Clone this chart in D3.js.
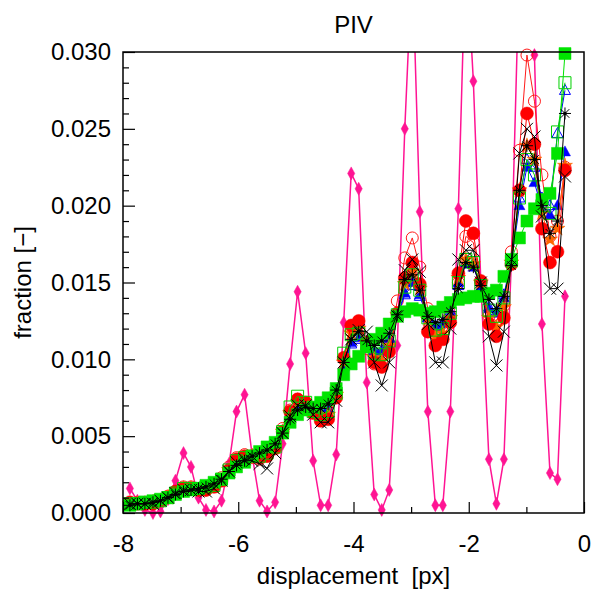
<!DOCTYPE html>
<html>
<head>
<meta charset="utf-8">
<script src="https://cdn.jsdelivr.net/npm/d3@7"></script>
<style>
  body { margin: 0; background: #fff; }
  text { font-family: "Liberation Sans", Arial, sans-serif; }
</style>
</head>
<body>
<script>

// displacement bins [px]
var xs = [-7.88, -7.75, -7.62, -7.48, -7.35, -7.22, -7.09, -6.95, -6.82, -6.69,
          -6.56, -6.42, -6.29, -6.16, -6.03, -5.89, -5.76, -5.63, -5.50, -5.36,
          -5.23, -5.10, -4.97, -4.83, -4.70, -4.57, -4.44, -4.30, -4.17, -4.04,
          -3.91, -3.77, -3.64, -3.51, -3.38, -3.24, -3.11, -2.98, -2.85, -2.71,
          -2.58, -2.45, -2.32, -2.18, -2.05, -1.92, -1.79, -1.65, -1.52, -1.39,
          -1.26, -1.12, -0.99, -0.86, -0.73, -0.59, -0.46, -0.33];

// fraction per bin, one array per evaluation
var pinkDiamond = [.0016, .0008, .0002, .0000, .0001, .0009, .0021, .0039, .0030, .0010,
                   .0002, .0001, .0008, .0032, .0066, .0077, .0038, .0008, .0001, .0007,
                   .0045, .0097, .0144, .0104, .0034, .0005, .0005, .0038, .0124, .0221,
                   .0211, .0085, .0012, .0002, .0015, .0109, .0250, .0360, .0196, .0066,
                   .0005, .0005, .0066, .0198, .0370, .0281, .0150, .0035, .0006, .0035,
                   .0165, .0360, .0400, .0298, .0123, .0026, .0022, .0141];

var redOpen = [.0006, .0007, .0007, .0006, .0008, .0011, .0014, .0017, .0017, .0015,
               .0015, .0018, .0023, .0030, .0036, .0038, .0036, .0035, .0038, .0044,
               .0055, .0067, .0074, .0071, .0066, .0062, .0064, .0078, .0100, .0118,
               .0120, .0107, .0097, .0099, .0110, .0138, .0166, .0179, .0160, .0133,
               .0119, .0118, .0128, .0150, .0180, .0176, .0150, .0128, .0125, .0135,
               .0170, .0236, .0298, .0268, .0220, .0180, .0190, .0225];

var blueFilled = [.0005, .0006, .0007, .0007, .0008, .0010, .0013, .0015, .0015, .0016,
                  .0017, .0018, .0022, .0027, .0033, .0035, .0037, .0038, .0040, .0044,
                  .0053, .0063, .0069, .0070, .0067, .0066, .0068, .0078, .0096, .0111,
                  .0114, .0110, .0105, .0105, .0113, .0129, .0143, .0150, .0142, .0127,
                  .0121, .0123, .0130, .0150, .0162, .0160, .0147, .0133, .0130, .0140,
                  .0163, .0200, .0225, .0215, .0198, .0194, .0200, .0235];

var blueOpen = [.0005, .0006, .0007, .0007, .0008, .0010, .0013, .0015, .0016, .0016,
                .0017, .0019, .0022, .0027, .0032, .0035, .0037, .0038, .0040, .0045,
                .0053, .0063, .0069, .0070, .0067, .0066, .0068, .0078, .0095, .0110,
                .0113, .0110, .0106, .0106, .0114, .0128, .0142, .0148, .0141, .0127,
                .0122, .0124, .0131, .0148, .0163, .0162, .0146, .0134, .0131, .0142,
                .0165, .0205, .0230, .0225, .0205, .0200, .0247, .0275];

var orangeStar = [.0006, .0006, .0006, .0007, .0008, .0010, .0013, .0016, .0016, .0015,
                  .0016, .0017, .0021, .0028, .0034, .0036, .0037, .0037, .0038, .0043,
                  .0053, .0065, .0072, .0071, .0066, .0063, .0064, .0077, .0098, .0117,
                  .0120, .0110, .0101, .0099, .0109, .0129, .0149, .0157, .0146, .0126,
                  .0115, .0117, .0127, .0153, .0165, .0162, .0150, .0127, .0121, .0134,
                  .0163, .0210, .0239, .0230, .0195, .0178, .0185, .0226];

var redFilled = [.0007, .0006, .0006, .0006, .0008, .0010, .0014, .0016, .0016, .0015,
                 .0015, .0017, .0021, .0028, .0035, .0037, .0037, .0036, .0037, .0042,
                 .0053, .0066, .0074, .0072, .0065, .0060, .0061, .0075, .0101, .0122,
                 .0125, .0111, .0098, .0095, .0105, .0130, .0153, .0163, .0149, .0118,
                 .0109, .0113, .0124, .0156, .0190, .0182, .0151, .0123, .0115, .0127,
                 .0162, .0210, .0260, .0240, .0185, .0163, .0170, .0223];

var greenOpen = [.0006, .0006, .0007, .0007, .0008, .0010, .0013, .0016, .0016, .0016,
                 .0017, .0018, .0022, .0028, .0034, .0036, .0037, .0037, .0039, .0043,
                 .0053, .0069, .0076, .0072, .0066, .0064, .0066, .0078, .0104, .0116,
                 .0117, .0110, .0104, .0103, .0112, .0129, .0147, .0155, .0145, .0127,
                 .0119, .0120, .0130, .0150, .0165, .0163, .0148, .0132, .0128, .0140,
                 .0164, .0205, .0230, .0220, .0200, .0195, .0248, .0280];

var greenFilled = [.0005, .0006, .0007, .0008, .0009, .0010, .0012, .0014, .0015, .0016,
                   .0018, .0020, .0022, .0026, .0030, .0033, .0037, .0040, .0043, .0046,
                   .0052, .0059, .0064, .0067, .0069, .0072, .0075, .0081, .0090, .0097,
                   .0102, .0108, .0113, .0117, .0123, .0128, .0131, .0133, .0132, .0130,
                   .0131, .0134, .0137, .0139, .0140, .0141, .0141, .0143, .0145, .0154,
                   .0165, .0179, .0190, .0198, .0204, .0208, .0234, .0299];

var blackX = [.0006, .0006, .0006, .0006, .0008, .0010, .0013, .0015, .0015, .0014,
              .0014, .0016, .0021, .0027, .0033, .0035, .0034, .0032, .0029, .0039,
              .0052, .0063, .0070, .0070, .0064, .0059, .0059, .0073, .0098, .0113,
              .0119, .0118, .0098, .0083, .0098, .0128, .0158, .0165, .0157, .0123,
              .0098, .0098, .0120, .0165, .0171, .0171, .0150, .0115, .0096, .0118,
              .0165, .0234, .0250, .0245, .0193, .0146, .0146, .0219];

var blackStar = [.0005, .0006, .0006, .0007, .0008, .0010, .0012, .0014, .0015, .0016,
                 .0017, .0019, .0022, .0027, .0031, .0034, .0037, .0039, .0041, .0045,
                 .0052, .0061, .0067, .0069, .0068, .0068, .0071, .0080, .0098, .0113,
                 .0118, .0112, .0109, .0112, .0117, .0129, .0152, .0155, .0145, .0128,
                 .0124, .0126, .0131, .0146, .0163, .0160, .0148, .0139, .0133, .0141,
                 .0161, .0210, .0239, .0230, .0200, .0182, .0190, .0260];

var xMajor = [-8, -6, -4, -2, 0];
var xMinor = [-7, -5, -3, -1];
var yMajor = [0, 0.005, 0.010, 0.015, 0.020, 0.025, 0.030];
var yMinor = [0.001, 0.002, 0.003, 0.004, 0.006, 0.007, 0.008, 0.009, 0.011, 0.012, 0.013, 0.014,
              0.016, 0.017, 0.018, 0.019, 0.021, 0.022, 0.023, 0.024, 0.026, 0.027, 0.028, 0.029];

// plot window
var w = 591;
var h = 589;
var pLeft = 123, pRight = 584, pTop = 52, pBottom = 513;

var svg = d3.select("body")
    .append("svg")
    .attr("width", w)
    .attr("height", h);

var xScale = d3.scaleLinear().domain([-8, 0]).range([pLeft, pRight]);
var yScale = d3.scaleLinear().domain([0, 0.03]).range([pBottom, pTop]);

svg.append("defs").append("clipPath")
    .attr("id", "plotclip")
  .append("rect")
    .attr("x", pLeft).attr("y", pTop)
    .attr("width", pRight - pLeft).attr("height", pBottom - pTop);

// marker shapes
var shapes = {
  diamond: "M0,-6.5L3.6,0L0,6.5L-3.6,0Z",
  circle: d3.symbol(d3.symbolCircle, 132)(),
  openCircle: d3.symbol(d3.symbolCircle, 113)(),
  triangle: "M0,-6L5.5,4L-5.5,4Z",
  star: d3.symbol(d3.symbolStar, 70)(),
  square: "M-6,-6H6V6H-6Z",
  cross: "M-6,-6L6,6M6,-6L-6,6",
  asterisk: "M-6,0H6M0,-6V6M-4.3,-4.3L4.3,4.3M4.3,-4.3L-4.3,4.3"
};

var series = [
  {v: pinkDiamond, color: "#ff1493", shape: "diamond", fill: true, lw: 1.5},
  {v: redOpen, color: "#ff1a1a", shape: "openCircle", fill: false, lw: 1},
  {v: blueFilled, color: "#0000ff", shape: "triangle", fill: true, lw: 1},
  {v: blueOpen, color: "#0000ff", shape: "triangle", fill: false, lw: 1},
  {v: orangeStar, color: "#ff6600", shape: "star", fill: true, lw: 1},
  {v: redFilled, color: "#ff0000", shape: "circle", fill: true, lw: 1},
  {v: greenOpen, color: "#00d000", shape: "square", fill: false, lw: 1},
  {v: greenFilled, color: "#00e400", shape: "square", fill: true, lw: 1},
  {v: blackX, color: "#000000", shape: "cross", fill: false, lw: 1},
  {v: blackStar, color: "#000000", shape: "asterisk", fill: false, lw: 1}
];

var line = d3.line()
    .x(function(d, i) { return xScale(xs[i]); })
    .y(function(d) { return yScale(d); });

series.forEach(function(s) {
  var g = svg.append("g");
  g.append("path")
    .attr("clip-path", "url(#plotclip)")
    .attr("d", line(s.v))
    .attr("fill", "none")
    .attr("stroke", s.color)
    .attr("stroke-width", s.lw);

  g.selectAll("path.mk")
    .data(s.v.map(function(d, i) { return [xs[i], d]; })
             .filter(function(d) { return d[1] <= 0.0302; }))
    .enter()
    .append("path")
    .attr("class", "mk")
    .attr("transform", function(d) { return "translate(" + xScale(d[0]) + "," + yScale(d[1]) + ")"; })
    .attr("d", shapes[s.shape])
    .attr("fill", s.fill ? s.color : "none")
    .attr("stroke", s.color)
    .attr("stroke-width", s.fill ? 0.5 : 1);

  if (s.shape === "asterisk") {
    g.selectAll("circle.dot")
      .data(s.v.map(function(d, i) { return [xs[i], d]; }))
      .enter()
      .append("circle")
      .attr("cx", function(d) { return xScale(d[0]); })
      .attr("cy", function(d) { return yScale(d[1]); })
      .attr("r", 1.8)
      .attr("fill", "#000");
  }
});

// axes: ticks point into the plot
var fmtY = d3.format(".3f");

function styleText(g) {
  g.select(".domain").remove();
  g.selectAll("text")
    .attr("font-size", 24)
    .attr("font-family", "Liberation Sans, Arial, sans-serif")
    .attr("fill", "#000");
}

svg.append("g")
    .attr("transform", "translate(" + pLeft + ",0)")
    .call(d3.axisLeft(yScale).tickValues(yMinor).tickSize(-6).tickFormat(""))
    .call(function(g) { g.select(".domain").remove(); });

svg.append("g")
    .attr("transform", "translate(" + pLeft + ",0)")
    .call(d3.axisLeft(yScale).tickValues(yMajor).tickSize(-12).tickPadding(12).tickFormat(fmtY))
    .call(styleText);

svg.append("g")
    .attr("transform", "translate(0," + pBottom + ")")
    .call(d3.axisBottom(xScale).tickValues(xMinor).tickSize(-6).tickFormat(""))
    .call(function(g) { g.select(".domain").remove(); });

svg.append("g")
    .attr("transform", "translate(0," + pBottom + ")")
    .call(d3.axisBottom(xScale).tickValues(xMajor).tickSize(-11).tickPadding(22)
          .tickFormat(function(d) { return String(d); }))
    .call(styleText);

svg.selectAll(".tick line").attr("stroke", "#000").attr("stroke-width", 1.2);

// frame
svg.append("rect")
    .attr("x", pLeft).attr("y", pTop)
    .attr("width", pRight - pLeft).attr("height", pBottom - pTop)
    .attr("fill", "none")
    .attr("stroke", "#000")
    .attr("stroke-width", 1.5);

// title and labels
svg.append("text")
    .attr("x", (pLeft + pRight) / 2).attr("y", 33)
    .attr("text-anchor", "middle")
    .attr("font-size", 24)
    .text("PIV");

svg.append("text")
    .attr("x", (pLeft + pRight) / 2).attr("y", 584)
    .attr("text-anchor", "middle")
    .attr("font-size", 24)
    .style("white-space", "pre")
    .text("displacement  [px]");

svg.append("text")
    .attr("transform", "translate(31," + ((pTop + pBottom) / 2) + ") rotate(-90)")
    .attr("text-anchor", "middle")
    .attr("font-size", 24)
    .text("fraction [\u2212]");

</script>
</body>
</html>
